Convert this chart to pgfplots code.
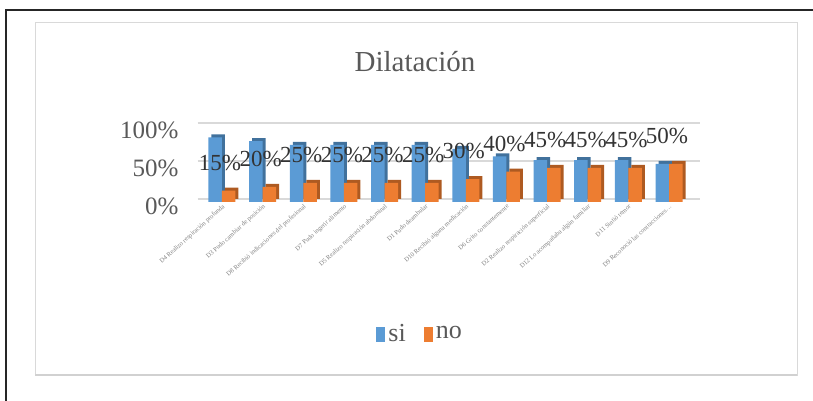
\documentclass[border=0pt]{standalone}
\usepackage{pgfplots}
\pgfplotsset{compat=1.18}
\usepackage{pgfplotstable}
\usepackage{fontspec}
\setmainfont{Liberation Serif}

\definecolor{siblue}{HTML}{5B9BD5}
\definecolor{sibluedark}{HTML}{41719C}
\definecolor{noorange}{HTML}{ED7D31}
\definecolor{noorangedark}{HTML}{AE5A21}
\definecolor{txtgray}{HTML}{595959}
\definecolor{gridgray}{HTML}{D9D9D9}

% share of answers per item (percent)
\pgfplotstableread{
idx si no
0  85 15
1  80 20
2  75 25
3  75 25
4  75 25
5  75 25
6  70 30
7  60 40
8  55 45
9  55 45
10 55 45
11 50 50
}\dilatacion

\begin{document}
\begin{tikzpicture}[x=1pt,y=1pt]
\path[use as bounding box] (0,0) rectangle (813,401);
% page frame
\draw[line width=2pt, black!85] (6,0) -- (6,391) -- (813,391);
% chart area
\draw[gridgray, line width=0.8pt] (35,26) rectangle (797,379);
\draw[black!18, line width=1.6pt] (35,26) -- (797,26);
\node[font=\fontsize{29}{34}\selectfont, text=txtgray] at (415,339) {Dilatación};

\begin{axis}[
  at={(197.6pt,199pt)}, anchor=south west,
  scale only axis, width=502.3pt, height=76pt,
  xmin=-0.6, xmax=11.76, ymin=0, ymax=100,
  axis line style={draw=none},
  tick style={draw=none},
  ytick={0,50,100}, yticklabels={0\%,50\%,100\%},
  yticklabel style={font=\fontsize{25}{30}\selectfont, text=txtgray,
    inner sep=0pt, xshift=-19pt, yshift=-4pt},
  ymajorgrids, grid style={gridgray, line width=1.5pt, yshift=3pt},
  xtick={0,1,2,3,4,5,6,7,8,9,10,11},
  xticklabels={D4 Realizo respiración profunda, D3 Pudo cambiar de posición,
    D8 Recibió indicaciones del profesional, D7 Pudo ingerir alimento,
    D5 Realizo respiración abdominal, D1 Pudo deambular,
    D10 Recibió alguna medicación, D6 Grito constantemente,
    D2 Realizo respiración superficial, D12 Lo acompañaba algún familiar,
    D11 Sintió temor, {D9 Reconoció las contracciones\ldots}},
  xticklabel style={font=\fontsize{6.5}{7}\selectfont, text=gray,
    rotate=42, anchor=north east, inner sep=1pt},
  clip=false,
  /pgf/number format/assume math mode=true,
  legend columns=2,
  legend style={at={(0.443,-1.73)}, anchor=center, draw=none, fill=none,
    font=\fontsize{26}{30}\selectfont, text=txtgray,
    /tikz/every even column/.append style={column sep=16pt},
    /tikz/every odd column/.append style={column sep=1pt}},
  legend image code/.code={\fill[#1, draw=none] (0pt,-9pt) rectangle (9pt,6pt);},
]
% side and top faces
\addplot[ybar, bar width=13.5pt, bar shift=-6.75pt, fill=sibluedark, draw=none,
  xshift=3pt, yshift=3pt, forget plot] table[x=idx, y=si] {\dilatacion};
% front faces
\addplot[ybar, bar width=13.5pt, bar shift=-6.75pt, fill=siblue, draw=none]
  table[x=idx, y=si] {\dilatacion};
\addlegendentry{si}
\addplot[ybar, bar width=13.5pt, bar shift=6.75pt, fill=noorangedark, draw=none,
  xshift=3pt, yshift=3pt, forget plot] table[x=idx, y=no] {\dilatacion};
\addplot[ybar, bar width=13.5pt, bar shift=6.75pt, fill=noorange, draw=none,
  nodes near coords={\pgfmathprintnumber{\pgfplotspointmeta}\%},
  every node near coord/.append style={font=\fontsize{23}{27}\selectfont,
    text=black!80, anchor=south, inner sep=0pt, yshift=20pt, xshift=-2pt}]
  table[x=idx, y=no] {\dilatacion};
\addlegendentry{no}
\end{axis}
\end{tikzpicture}
\end{document}
